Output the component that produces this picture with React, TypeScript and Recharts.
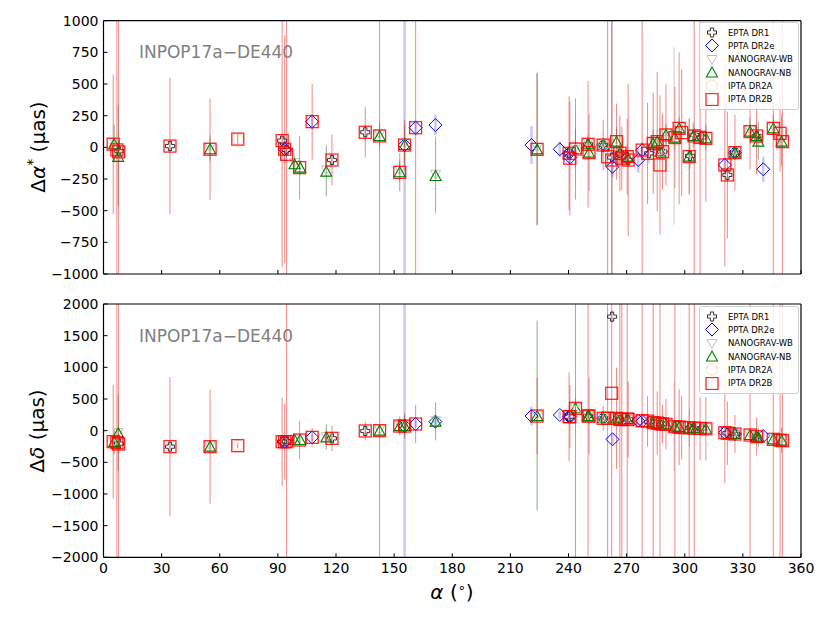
import React from "react";
import { ScatterChart, Scatter, XAxis, YAxis, ErrorBar, Legend } from "recharts";

// each row: [RA (deg), Δα* (µas), σ Δα*, Δδ (µas), σ Δδ]
type Row = [number, number, number, number, number];

const EPTA_DR1: Row[] = [
  [8.0, -30, 80, -205, 150], [34.3, 10, 40, -253, 60], [92.2, 53, 40, -174, 80],
  [94.5, -20, 60, -170, 80], [117.9, -100, 40, -122, 60], [135.1, 119, 60, -5, 60],
  [240.3, -47, 50, 221, 80], [250.1, 24, 30, 231, 40], [257.9, 18, 20, 195, 20],
  [262.5, -80, 3000, 1800, 100], [266.5, -47, 60, 175, 60], [270.8, -100, 60, 180, 60],
  [281.6, -47, 80, 140, 80], [288.5, -34, 30, 105, 30], [302.7, -68, 100, 45, 100],
  [304.9, 97, 60, 40, 60], [308.7, 79, 50, 35, 50], [322.0, -218, 60, -40, 60],
  [325.9, -42, 30, -53, 30], [337.1, 90, 80, -95, 80],
];

const PPTA_DR2E: Row[] = [
  [93.5, -15, 100, -174, 100], [107.7, 203, 60, -106, 60], [155.4, 18, 5000, 73, 5000],
  [161.1, 155, 60, 105, 60], [171.3, 176, 80, 142, 80], [220.9, 18, 150, 231, 150],
  [235.5, -15, 60, 247, 60], [240.3, -47, 40, 221, 40], [240.9, -80, 60, 221, 60],
  [257.9, 18, 20, 195, 20], [262.7, -153, 80, -137, 80], [266.1, -47, 30, 175, 30],
  [276.0, -100, 100, 157, 100], [278.0, -22, 60, 150, 60], [287.4, -34, 10, 105, 10],
  [320.7, -139, 60, -32, 60], [325.9, -42, 30, -53, 30], [340.5, -173, 100, -85, 100],
];

const NANOGRAV_WB: Row[] = [
  [5.5, 40, 150, -165, 200], [7.6, -60, 400, -30, 600], [55.0, 0, 100, -240, 100],
  [98.6, -120, 60, -135, 60], [115.0, -178, 200, -92, 200], [142.5, 104, 100, 14, 100],
  [152.9, -183, 80, 87, 80], [155.4, 32, 150, 87, 150], [171.4, -212, 300, 156, 300],
  [223.8, -2, 600, 245, 1500], [243.6, 1, 150, 367, 150], [250.1, 38, 60, 245, 60],
  [257.9, 32, 20, 209, 20], [264.8, 59, 100, 209, 100], [270.3, -59, 80, 199, 80],
  [283.7, 45, 100, 140, 100], [287.4, -20, 20, 119, 20], [290.3, 112, 80, 114, 80],
  [294.5, 90, 700, 60, 700], [297.1, 164, 80, 69, 80], [304.4, 104, 100, 54, 100],
  [310.9, 85, 100, 44, 100], [325.9, -28, 30, -39, 30], [333.7, 138, 100, -55, 100],
  [338.0, 59, 150, -96, 150], [345.7, 164, 100, -123, 100], [350.0, 59, 200, -144, 200],
];

const NANOGRAV_NB: Row[] = [
  [5.5, 25, 150, -180, 200], [7.6, -75, 400, -42, 600], [55.0, -15, 100, -253, 100],
  [98.6, -134, 60, -148, 60], [101.5, -160, 60, -148, 60], [115.0, -192, 200, -106, 200],
  [142.5, 90, 100, 0, 100], [152.9, -197, 80, 73, 80], [155.4, 18, 150, 73, 150],
  [171.4, -226, 300, 142, 300], [223.8, -16, 600, 231, 1500], [243.6, -13, 150, 353, 150],
  [250.1, 24, 60, 231, 60], [250.6, -42, 60, 231, 60], [257.9, 18, 20, 195, 20],
  [264.8, 45, 100, 195, 100], [266.5, -47, 40, 175, 40], [270.3, -73, 80, 185, 80],
  [283.7, 31, 100, 126, 100], [285.8, 45, 100, 120, 100], [287.4, -34, 20, 105, 20],
  [290.3, 98, 80, 100, 80], [294.9, 77, 100, 63, 100], [297.1, 150, 80, 55, 80],
  [302.3, -73, 300, 45, 300], [304.4, 90, 100, 40, 100], [310.9, 71, 100, 30, 100],
  [325.9, -42, 30, -53, 30], [333.7, 124, 100, -69, 100], [337.1, 90, 100, -95, 100],
  [338.0, 45, 150, -110, 150], [345.7, 150, 100, -137, 100], [350.0, 45, 200, -158, 200],
];

const IPTA_DR2A: Row[] = [
  [69.3, 65, 60, -237, 60], [243.6, -20, 300, 300, 400], [257.9, 18, 100, 195, 100],
  [266.5, -47, 200, 175, 200], [287.4, -34, 100, 105, 100],
];

const IPTA_DR2B: Row[] = [
  [5.0, 25, 550, -174, 900], [6.9, -20, 5000, -190, 5000], [7.8, -35, 5000, -211, 5000],
  [34.3, 10, 540, -253, 1100], [55.0, -15, 400, -253, 900], [69.3, 65, 40, -237, 40],
  [92.2, 53, 1000, -174, 700], [93.5, -15, 900, -174, 600], [94.5, -55, 3000, -174, 3000],
  [101.2, -160, 250, -148, 300], [107.7, 203, 300, -106, 150], [117.9, -100, 200, -122, 200],
  [135.1, 119, 200, -5, 150], [142.5, 90, 5000, 0, 5000], [152.9, -197, 150, 73, 150],
  [155.4, 18, 200, 73, 200], [161.1, 155, 1500, 105, 300], [223.8, -16, 600, 231, 600],
  [240.3, -47, 450, 221, 700], [240.7, -86, 450, 221, 500], [243.6, -13, 400, 353, 4000],
  [250.1, 24, 500, 231, 3000], [250.6, -42, 300, 231, 600], [257.9, 18, 200, 195, 200],
  [260.2, -74, 3000, 195, 3000], [262.3, -100, 3000, 590, 3000], [264.8, 45, 300, 195, 800],
  [266.5, -47, 300, 175, 3000], [267.5, -86, 250, 180, 3000], [270.3, -73, 300, 185, 3000],
  [270.8, -100, 600, 175, 600], [278.0, -22, 3000, 157, 3000], [280.8, -47, 400, 150, 400],
  [283.7, 31, 400, 126, 3000], [285.8, 45, 550, 120, 500], [287.2, -139, 550, 110, 3000],
  [288.5, -34, 300, 105, 300], [290.3, 98, 400, 100, 400], [294.9, 77, 400, 63, 3000],
  [297.1, 150, 600, 55, 600], [298.4, 116, 500, 50, 500], [302.3, -73, 300, 45, 3000],
  [304.9, 90, 3000, 40, 3000], [307.9, 79, 3000, 35, 500], [310.9, 71, 500, 30, 500],
  [320.7, -139, 800, -32, 800], [322.0, -218, 500, -40, 500], [325.9, -42, 300, -53, 300],
  [333.7, 124, 300, -69, 3000], [337.1, 90, 300, -95, 300], [345.7, 150, 3000, -137, 3000],
  [349.2, 111, 300, -150, 3000], [350.4, 45, 3000, -158, 3000],
];

const raTicks = [0, 30, 60, 90, 120, 150, 180, 210, 240, 270, 300, 330, 360];
const daTicks = [-1000, -750, -500, -250, 0, 250, 500, 750, 1000];
const ddTicks = [-2000, -1500, -1000, -500, 0, 500, 1000, 1500, 2000];
const annotation = "INPOP17a\u2212DE440";

const FONT = "'DejaVu Sans', sans-serif";

const plusPath = (cx: number, cy: number, a: number, b: number) =>
  `M${cx - b},${cy - a}H${cx + b}V${cy - b}H${cx + a}V${cy + b}H${cx + b}V${cy + a}H${cx - b}V${cy + b}H${cx - a}V${cy - b}H${cx - b}Z`;

type Marker = (cx: number, cy: number) => React.ReactElement;

const SERIES: {
  name: string;
  rows: Row[];
  marker: Marker;
  err: string;
  errWidth: number;
}[] = [
  {
    name: "EPTA DR1",
    rows: EPTA_DR1,
    marker: (cx, cy) => (
      <path d={plusPath(cx, cy, 4.5, 1.6)} fill="none" stroke="#333" strokeWidth={1} />
    ),
    err: "rgba(0,0,0,0.3)",
    errWidth: 1,
  },
  {
    name: "PPTA DR2e",
    rows: PPTA_DR2E,
    marker: (cx, cy) => (
      <path
        d={`M${cx},${cy - 6.5}L${cx + 6.5},${cy}L${cx},${cy + 6.5}L${cx - 6.5},${cy}Z`}
        fill="none"
        stroke="#0000ff"
        strokeWidth={1}
      />
    ),
    err: "rgba(0,0,255,0.22)",
    errWidth: 2.5,
  },
  {
    name: "NANOGRAV-WB",
    rows: NANOGRAV_WB,
    marker: (cx, cy) => (
      <path
        d={`M${cx - 5},${cy - 4}L${cx + 5},${cy - 4}L${cx},${cy + 5}Z`}
        fill="none"
        stroke="#c0c0c0"
        strokeWidth={1}
      />
    ),
    err: "rgba(128,128,128,0.4)",
    errWidth: 1,
  },
  {
    name: "NANOGRAV-NB",
    rows: NANOGRAV_NB,
    marker: (cx, cy) => (
      <path
        d={`M${cx},${cy - 5.5}L${cx + 5.5},${cy + 4.5}L${cx - 5.5},${cy + 4.5}Z`}
        fill="none"
        stroke="#008000"
        strokeWidth={1.1}
      />
    ),
    err: "rgba(0,128,0,0.3)",
    errWidth: 1,
  },
  {
    name: "IPTA DR2A",
    rows: IPTA_DR2A,
    marker: (cx, cy) => (
      <circle cx={cx} cy={cy} r={5.5} fill="none" stroke="#ffdcb8" strokeWidth={1} />
    ),
    err: "rgba(255,165,0,0.2)",
    errWidth: 1,
  },
  {
    name: "IPTA DR2B",
    rows: IPTA_DR2B,
    marker: (cx, cy) => (
      <rect
        x={cx - 6}
        y={cy - 6}
        width={12}
        height={12}
        fill="none"
        stroke="rgba(255,0,0,0.85)"
        strokeWidth={1.3}
      />
    ),
    err: "rgba(230,40,40,0.55)",
    errWidth: 1,
  },
];

const fmt = (v: number) => String(v).replace("-", "\u2212");
const blank = () => "";

const tickStyle = { fill: "#000", fontSize: 14, fontFamily: FONT };
const axisLine = { stroke: "#000", strokeWidth: 1.2 };
const tickLine = { stroke: "#000", strokeWidth: 1 };

const LegendBox = () => (
  <div
    style={{
      background: "rgba(255,255,255,0.85)",
      border: "1px solid #d0d0d0",
      borderRadius: 3,
      padding: "3px 0 3px 3px",
      fontFamily: FONT,
      fontSize: 8.5,
      color: "#000",
      boxSizing: "border-box",
      width: 100,
    }}
  >
    {SERIES.map((s) => (
      <div key={s.name} style={{ display: "flex", alignItems: "center", height: 13.3 }}>
        <svg width={18} height={13} style={{ flex: "none" }}>
          {s.marker(9, 6.5)}
        </svg>
        <span style={{ marginLeft: 7, whiteSpace: "nowrap" }}>{s.name}</span>
      </div>
    ))}
  </div>
);

// error bars are cut at the panel edges, like the clipped ones in the figure
const clampErr = (v: number, e: number, [lo, hi]: [number, number]) => [
  Math.max(0, Math.min(e, v - lo)),
  Math.max(0, Math.min(e, hi - v)),
];

const Panel = ({
  which,
  height,
  top,
  bottom,
  ticks,
  domain,
  showX,
  legendTop,
}: {
  which: "da" | "dd";
  height: number;
  top: number;
  bottom: number;
  ticks: number[];
  domain: [number, number];
  showX: boolean;
  legendTop: number;
}) => (
  <ScatterChart
    width={830}
    height={height}
    margin={{ top, right: 28, bottom, left: 102.5 }}
  >
    <XAxis
      type="number"
      dataKey="ra"
      domain={[0, 360]}
      ticks={raTicks}
      allowDataOverflow
      height={1}
      tickSize={-4}
      tickMargin={10}
      tick={tickStyle}
      tickFormatter={showX ? fmt : blank}
      axisLine={axisLine}
      tickLine={tickLine}
    />
    <XAxis
      xAxisId="top"
      orientation="top"
      type="number"
      domain={[0, 360]}
      ticks={raTicks}
      height={1}
      tickSize={-4}
      tickFormatter={blank}
      axisLine={axisLine}
      tickLine={tickLine}
    />
    <YAxis
      type="number"
      dataKey="v"
      domain={domain}
      ticks={ticks}
      allowDataOverflow
      width={1}
      tickSize={-4}
      tickMargin={9}
      tick={tickStyle}
      tickFormatter={fmt}
      axisLine={axisLine}
      tickLine={tickLine}
    />
    <YAxis
      yAxisId="right"
      orientation="right"
      type="number"
      domain={domain}
      ticks={ticks}
      width={1}
      tickSize={-4}
      tickFormatter={blank}
      axisLine={axisLine}
      tickLine={tickLine}
    />
    {SERIES.map((s) => (
      <Scatter
        key={s.name}
        name={s.name}
        data={s.rows.map((r) => {
          const v = which === "da" ? r[1] : r[3];
          const e = which === "da" ? r[2] : r[4];
          return { ra: r[0], v, err: clampErr(v, e, domain) };
        })}
        isAnimationActive={false}
        shape={(p: any) => s.marker(p.cx, p.cy)}
      >
        <ErrorBar
          dataKey="err"
          direction="y"
          width={0}
          stroke={s.err}
          strokeWidth={s.errWidth}
        />
      </Scatter>
    ))}
    <Legend
      layout="vertical"
      align="center"
      verticalAlign="middle"
      content={() => <LegendBox />}
      wrapperStyle={{ top: legendTop, left: 699, width: 100, height: 84 }}
    />
  </ScatterChart>
);

const label: React.CSSProperties = {
  position: "absolute",
  fontFamily: FONT,
  fontSize: 20,
  whiteSpace: "nowrap",
  color: "#000",
};

export default function App() {
  return (
    <div
      style={{
        position: "absolute",
        left: 0,
        top: 0,
        width: 830,
        height: 623,
        background: "#fff",
        overflow: "hidden",
      }}
    >
      <div style={{ position: "absolute", left: 0, top: 0 }}>
        <Panel
          which="da"
          height={290}
          top={19.7}
          bottom={15}
          ticks={daTicks}
          domain={[-1000, 1000]}
          showX={false}
          legendTop={22}
        />
      </div>
      <div style={{ position: "absolute", left: 0, top: 290 }}>
        <Panel
          which="dd"
          height={333}
          top={13}
          bottom={64.7}
          ticks={ddTicks}
          domain={[-2000, 2000]}
          showX={true}
          legendTop={16}
        />
      </div>
      <div
        style={{
          ...label,
          left: 37,
          top: 147,
          transform: "translate(-50%, -50%) rotate(-90deg)",
        }}
      >
        Δ<i>α</i>
        <sup style={{ fontSize: 14 }}>*</sup> (μas)
      </div>
      <div
        style={{
          ...label,
          left: 37,
          top: 431,
          transform: "translate(-50%, -50%) rotate(-90deg)",
        }}
      >
        Δ<i>δ</i> (μas)
      </div>
      <div style={{ ...label, left: 452, top: 592, transform: "translate(-50%, -50%)" }}>
        <i>α</i> (<sup style={{ fontSize: 13 }}>∘</sup>)
      </div>
      {[52, 336].map((y) => (
        <div
          key={y}
          style={{
            ...label,
            fontSize: 17,
            color: "#808080",
            left: 139,
            top: y,
            transform: "translateY(-50%)",
          }}
        >
          {annotation}
        </div>
      ))}
    </div>
  );
}
